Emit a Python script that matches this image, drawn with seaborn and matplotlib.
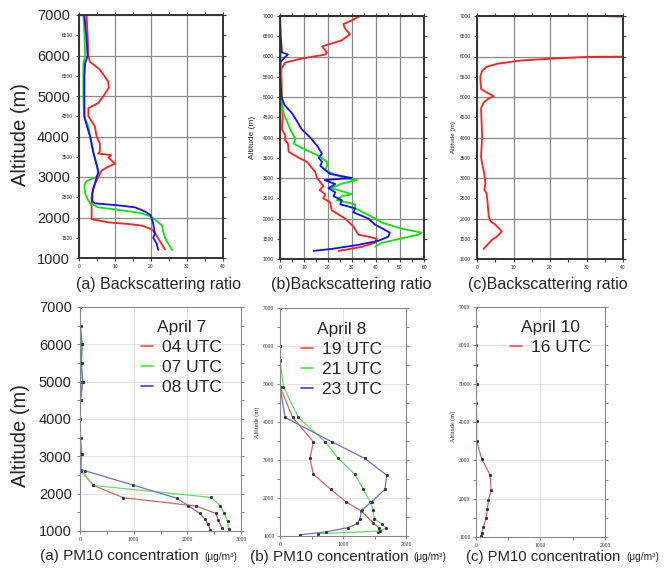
import numpy as np
import pandas as pd
import matplotlib
matplotlib.use("Agg")
import matplotlib.pyplot as plt
import seaborn as sns
from matplotlib.lines import Line2D
from matplotlib.ticker import MultipleLocator, FormatStrFormatter

# ------------------------------------------
# Lidar backscattering ratio profiles (top row)
# ------------------------------------------

# (a) April 7
bsr_a_red_alt = [7000, 6500, 6000, 5850, 5650, 5360, 5200, 5000, 4830, 4700, 4500, 4250, 4000,
                 3830, 3630, 3580, 3540, 3480, 3330, 3240, 3160, 3000, 2750, 2500, 2160, 1960,
                 1880, 1840, 1800, 1710, 1620, 1410, 1210]
bsr_a_red_val = [2.1, 2.4, 2.6, 3.0, 5.8, 8.1, 8.3, 6.8, 5.4, 2.6, 2.6, 4.4, 4.9,
                 5.8, 5.8, 5.3, 8.9, 8.2, 10.0, 7.8, 6.3, 5.4, 4.0, 3.5, 3.5, 3.5,
                 8.1, 13.7, 17.4, 20.2, 21.1, 22.5, 23.9]

bsr_a_green_alt = [7000, 6500, 6000, 5800, 5000, 4500, 4250, 4000, 3600, 3300, 3150, 3000, 2900,
                   2800, 2600, 2500, 2350, 2250, 2200, 2120, 2050, 1950, 1800, 1650, 1500, 1350, 1200]
bsr_a_green_val = [1.2, 1.5, 1.7, 1.2, 1.2, 1.4, 2.6, 3.1, 4.0, 4.9, 5.4, 4.9, 2.1,
                   1.5, 1.7, 2.1, 3.1, 5.4, 10.0, 16.5, 19.3, 21.1, 23.1, 23.4, 23.9, 24.8, 25.9]

bsr_a_blue_alt = [7000, 6500, 6000, 5800, 5500, 5000, 4500, 4250, 4000, 3600, 3300, 3100, 3000,
                  2800, 2600, 2400, 2350, 2300, 2250, 2150, 2050, 1850, 1600, 1500, 1350, 1200]
bsr_a_blue_val = [1.5, 2.0, 2.4, 1.7, 1.5, 1.5, 1.5, 2.2, 3.1, 4.0, 4.9, 5.4, 4.9,
                  4.3, 3.7, 3.7, 4.4, 10.9, 15.6, 18.3, 20.0, 20.6, 21.1, 20.6, 21.6, 22.0]

# (b) April 8
bsr_b_red_alt = [7000, 6900, 6800, 6700, 6550, 6400, 6250, 6100, 6050, 5950, 5850, 5700, 5500,
                 5000, 4500, 4200, 4050, 3950, 3850, 3650, 3500, 3400, 3300, 3150, 3000, 2900,
                 2800, 2700, 2600, 2500, 2400, 2200, 2000, 1800, 1600, 1550, 1500, 1400, 1300, 1200]
bsr_b_red_val = [33.4, 30.2, 26.4, 27.0, 29.2, 25.8, 17.5, 19.5, 19.0, 9.1, 2.2, 0.6, 0.6,
                 0.8, 1.1, 0.8, 2.2, 2.0, 3.3, 3.6, 7.8, 11.2, 12.6, 14.7, 15.4, 16.8,
                 18.1, 16.5, 18.8, 18.0, 20.9, 21.6, 27.1, 30.6, 32.7, 36.8, 40.3, 39.5, 34.1, 24.4]

bsr_b_green_alt = [7000, 6000, 5000, 4800, 4600, 4400, 4200, 4050, 3950, 3850, 3700, 3550, 3400,
                   3300, 3200, 3100, 3000, 2950, 2850, 2750, 2650, 2600, 2550, 2450, 2350, 2250,
                   2150, 2000, 1900, 1750, 1650, 1600, 1500, 1400, 1300]
bsr_b_green_val = [0.0, 0.3, 0.6, 0.8, 1.5, 2.9, 4.3, 5.7, 6.4, 5.7, 10.5, 16.1, 19.6,
                   19.6, 18.8, 22.3, 26.5, 32.0, 25.1, 21.6, 27.1, 29.9, 25.8, 23.7, 31.3, 31.3,
                   34.8, 39.6, 42.4, 50.7, 59.0, 57.6, 50.0, 42.4, 39.6]

bsr_b_blue_alt = [7000, 6500, 6100, 6050, 5950, 5850, 5500, 5000, 4800, 4600, 4400, 4200, 4000,
                  3800, 3600, 3500, 3400, 3300, 3200, 3100, 3000, 2950, 2850, 2750, 2650, 2550,
                  2450, 2350, 2250, 2150, 2000, 1850, 1650, 1550, 1450, 1350, 1250, 1200]
bsr_b_blue_val = [0.0, 0.3, 0.8, 3.3, 1.5, 0.1, 0.1, 0.6, 1.9, 5.0, 7.1, 9.1, 12.6,
                  15.4, 17.5, 16.1, 17.5, 16.8, 18.8, 20.9, 29.9, 18.6, 23.0, 20.2, 23.0, 22.3,
                  25.8, 25.1, 31.3, 30.6, 36.8, 39.6, 45.8, 45.1, 41.0, 32.7, 21.6, 14.0]

# (c) April 10 (goes off scale above 6000 m)
bsr_c_red_alt = [7000, 6980, 6000, 5990, 5950, 5900, 5820, 5750, 5650, 5500, 5200, 5130, 5020,
                 4970, 4860, 4720, 4510, 4020, 3520, 3360, 3110, 2870, 2710, 2630, 2390, 2060,
                 1930, 1850, 1680, 1560, 1470, 1250]
bsr_c_red_val = [34.7, 42.0, 42.0, 30.1, 21.0, 11.9, 5.5, 2.7, 1.4, 0.9, 1.1, 2.3, 4.6,
                 3.3, 1.8, 1.1, 1.2, 1.4, 1.1, 1.4, 2.0, 2.3, 2.0, 2.6, 2.9, 3.2,
                 3.7, 5.0, 6.8, 5.5, 4.1, 1.8]

# ------------------------------------------
# PM10 concentration profiles (bottom row)
# ------------------------------------------

pm_a_labels = ["04 UTC", "07 UTC", "08 UTC"]
pm_a_04_alt = [7000, 6500, 6000, 5500, 5000, 4500, 4000, 3500, 3060, 2630, 2220, 1890, 1670, 1470, 1290, 1090]
pm_a_04_val = [0, 5, 10, 5, 15, 5, 5, 10, 30, 20, 250, 810, 2160, 2530, 2580, 2640]
pm_a_07_alt = [7000, 6500, 6000, 5500, 5000, 4500, 4000, 3500, 3050, 2620, 2220, 1900, 1680, 1470, 1270, 1050]
pm_a_07_val = [0, 10, 40, 30, 50, 10, 5, 5, 10, 15, 250, 2445, 2610, 2690, 2750, 2770]
pm_a_08_alt = [7000, 6500, 6000, 5500, 5000, 4500, 4000, 3500, 3050, 2640, 2610, 2230, 1880, 1680, 1470, 1320, 1180, 1020]
pm_a_08_val = [0, 5, 40, 20, 50, 10, 5, 5, 10, 5, 100, 990, 1800, 2020, 2230, 2330, 2390, 2430]

pm_b_labels = ["19 UTC", "21 UTC", "23 UTC"]
pm_b_19_alt = [7000, 6000, 5640, 4930, 4120, 3480, 3040, 2630, 2230, 1900, 1660, 1350, 1210, 1110]
pm_b_19_val = [0, 0, 0, 0, 201, 529, 476, 529, 804, 1048, 1286, 1481, 1571, 1561]
pm_b_21_alt = [7000, 6000, 5640, 4930, 4120, 3480, 3040, 2620, 2230, 1900, 1680, 1460, 1320, 1210, 1130, 1060]
pm_b_21_val = [0, 0, 0, 53, 291, 714, 926, 1190, 1323, 1429, 1481, 1492, 1614, 1683, 1595, 600]
pm_b_23_alt = [7000, 6000, 5600, 4930, 4120, 3480, 3040, 2600, 2230, 1900, 1680, 1460, 1330, 1220, 1110, 1030]
pm_b_23_val = [0, 0, 0, 0, 80, 820, 1349, 1693, 1667, 1455, 1296, 1270, 1230, 1080, 730, 320]

pm_c_labels = ["16 UTC"]
pm_c_16_alt = [7000, 6500, 6000, 5500, 5000, 4500, 4030, 3500, 3035, 2620, 2220, 1960, 1730, 1500, 1250, 1115, 1030]
pm_c_16_val = [5, 5, 5, 5, 10, 5, 10, 10, 89, 219, 234, 193, 177, 156, 115, 89, 78]

# ------------------------------------------
# Figure setup
# ------------------------------------------

sns.set_style("ticks")
plt.rcParams["font.family"] = ["Liberation Sans", "DejaVu Sans"]

W, H = 668, 570
fig = plt.figure(figsize=(W / 100, H / 100), dpi=100)

LIDAR_COLORS = ["#ff2020", "#10e010", "#1010ff"]
PM_COLORS = ["#d06868", "#6ad86a", "#7070c8"]
LEGEND_COLORS = ["#ff4a4a", "#3cf03c", "#3c3cff"]


def add_ax(x0, y0, x1, y1):
    # pixel box -> figure fraction
    return fig.add_axes([x0 / W, 1 - y1 / H, (x1 - x0) / W, (y1 - y0) / H])


def px_text(x, y, s, **kw):
    fig.text(x / W, 1 - y / H, s, **kw)


def to_frame(series):
    frames = [pd.DataFrame({"alt": alt, "val": val, "run": name}) for name, alt, val in series]
    return pd.concat(frames, ignore_index=True)


def draw_profiles(ax, series, colors, **kw):
    df = to_frame(series)
    sns.lineplot(data=df, x="val", y="alt", hue="run", palette=colors[:len(series)],
                 sort=False, estimator=None, legend=False, ax=ax, **kw)


def style_lidar(ax, xmax, big_y=False):
    ax.set_xlim(0, xmax)
    ax.set_ylim(1000, 7000)
    ax.xaxis.set_major_locator(MultipleLocator(10))
    ax.xaxis.set_minor_locator(MultipleLocator(5))
    ax.yaxis.set_major_locator(MultipleLocator(1000))
    ax.yaxis.set_minor_locator(MultipleLocator(500))
    ax.yaxis.set_minor_formatter(FormatStrFormatter("%d"))
    ax.grid(True, which="major", color="#8a8a8a", lw=0.9)
    ax.tick_params(which="both", direction="out", top=True, right=True,
                   length=2.5, width=0.8, color="#444", labelsize=3.5, pad=2)
    if big_y:
        ax.tick_params(axis="y", which="major", labelsize=10.5, pad=4)
    for sp in ax.spines.values():
        sp.set_color("#333")
        sp.set_linewidth(1.4)
    ax.set_xlabel("")
    ax.set_ylabel("")


def style_pm(ax, xmax, big_y=False):
    ax.set_xlim(0, xmax)
    ax.set_ylim(1000, 7000)
    ax.xaxis.set_major_locator(MultipleLocator(1000))
    ax.xaxis.set_minor_locator(MultipleLocator(500))
    ax.yaxis.set_major_locator(MultipleLocator(1000))
    ax.yaxis.set_minor_locator(MultipleLocator(500))
    ax.grid(True, which="major", color="#e2e2e2", lw=0.7)
    ax.tick_params(which="both", direction="out", top=False, right=True,
                   length=2, width=0.6, color="#777", labelsize=4, pad=2)
    for lab in ax.get_xticklabels() + ax.get_yticklabels():
        lab.set_family(["Liberation Serif", "DejaVu Serif"])
    if big_y:
        ax.tick_params(axis="y", which="major", labelsize=10.5, pad=4)
        for lab in ax.get_yticklabels():
            lab.set_family(["Liberation Sans", "DejaVu Sans"])
    for sp in ax.spines.values():
        sp.set_color("#888")
        sp.set_linewidth(0.8)
    ax.set_xlabel("")
    ax.set_ylabel("")


def pm_legend(ax, title, labels, anchor):
    handles = [Line2D([], [], color=c, lw=1.2) for c in LEGEND_COLORS[:len(labels)]]
    leg = ax.legend(handles, labels, title=title, loc="upper right", bbox_to_anchor=anchor,
                    frameon=False, fontsize=12.5, title_fontsize=12.5, handlelength=0.7,
                    handletextpad=0.5, labelspacing=0.28, borderpad=0, borderaxespad=0)
    return leg


# ---------------- top row ----------------
ax1 = add_ax(79, 15, 223, 258)
draw_profiles(ax1, [("04", bsr_a_red_alt, bsr_a_red_val),
                    ("07", bsr_a_green_alt, bsr_a_green_val),
                    ("08", bsr_a_blue_alt, bsr_a_blue_val)], LIDAR_COLORS, lw=1.3)
style_lidar(ax1, 40, big_y=True)

ax2 = add_ax(280, 16, 424, 259)
draw_profiles(ax2, [("19", bsr_b_red_alt, bsr_b_red_val),
                    ("21", bsr_b_green_alt, bsr_b_green_val),
                    ("23", bsr_b_blue_alt, bsr_b_blue_val)], LIDAR_COLORS, lw=1.3)
style_lidar(ax2, 60)

ax3 = add_ax(477, 16, 623, 259)
draw_profiles(ax3, [("16", bsr_c_red_alt, bsr_c_red_val)], LIDAR_COLORS, lw=1.3)
style_lidar(ax3, 40)

# ---------------- bottom row ----------------
dot_kw = dict(lw=0.9, marker="o", markersize=1.5, markerfacecolor="#333", markeredgecolor="#333")

ax4 = add_ax(80, 307, 241, 531)
draw_profiles(ax4, [(pm_a_labels[0], pm_a_04_alt, pm_a_04_val),
                    (pm_a_labels[1], pm_a_07_alt, pm_a_07_val),
                    (pm_a_labels[2], pm_a_08_alt, pm_a_08_val)], PM_COLORS, **dot_kw)
style_pm(ax4, 3000, big_y=True)
pm_legend(ax4, "April 7", pm_a_labels, (0.88, 0.942))

ax5 = add_ax(280, 308, 406, 536)
draw_profiles(ax5, [(pm_b_labels[0], pm_b_19_alt, pm_b_19_val),
                    (pm_b_labels[1], pm_b_21_alt, pm_b_21_val),
                    (pm_b_labels[2], pm_b_23_alt, pm_b_23_val)], PM_COLORS, **dot_kw)
style_pm(ax5, 2000)
pm_legend(ax5, "April 8", pm_b_labels, (0.81, 0.94))

ax6 = add_ax(476, 307, 605, 537)
draw_profiles(ax6, [(pm_c_labels[0], pm_c_16_alt, pm_c_16_val)], PM_COLORS, **dot_kw)
style_pm(ax6, 2000)
pm_legend(ax6, "April 10", pm_c_labels, (0.89, 0.945))

# ---------------- axis titles ----------------
px_text(21, 135, "Altitude (m)", fontsize=14.5, rotation=90, ha="center", va="center")
px_text(21, 436, "Altitude (m)", fontsize=14.5, rotation=90, ha="center", va="center")
px_text(253, 137, "Altitude (m)", fontsize=6, rotation=90, ha="center", va="center")
px_text(453, 137, "Altitude (m)", fontsize=4.5, rotation=90, ha="center", va="center")
px_text(257, 422, "Altitude (m)", fontsize=4.5, rotation=90, ha="center", va="center",
        family=["Liberation Serif", "DejaVu Serif"])
px_text(453, 426, "Altitude (m)", fontsize=4.5, rotation=90, ha="center", va="center",
        family=["Liberation Serif", "DejaVu Serif"])

px_text(159, 285, "(a) Backscattering ratio", fontsize=11.5, ha="center", va="center")
px_text(351, 285, "(b)Backscattering ratio", fontsize=11.5, ha="center", va="center")
px_text(548, 285, "(c)Backscattering ratio", fontsize=11.5, ha="center", va="center")

px_text(40, 556, "(a) PM10 concentration", fontsize=11, ha="left", va="center")
px_text(204, 557, "(μg/m³)", fontsize=7.3, ha="left", va="center")
px_text(250, 557, "(b) PM10 concentration", fontsize=11, ha="left", va="center")
px_text(413, 557, "(μg/m³)", fontsize=7.3, ha="left", va="center")
px_text(466, 557, "(c) PM10 concentration", fontsize=10.7, ha="left", va="center")
px_text(626, 557, "(μg/m³)", fontsize=7.3, ha="left", va="center")

fig.savefig("out.png", dpi=100)
